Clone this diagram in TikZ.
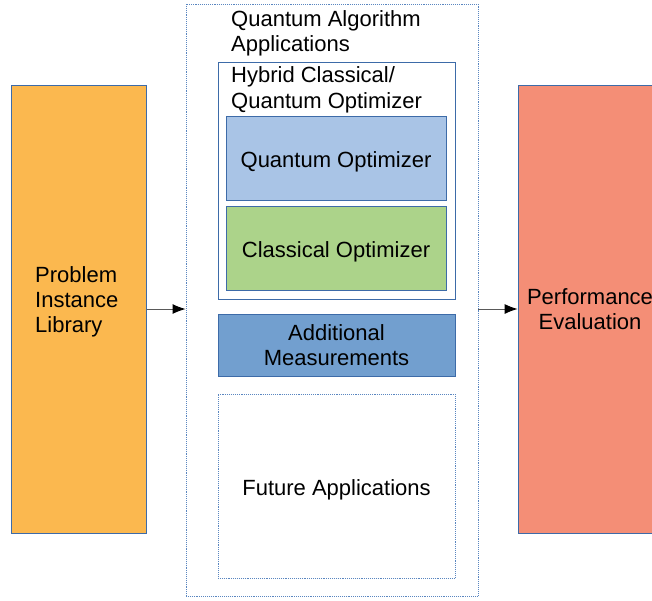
\documentclass[tikz,border=0pt]{standalone}
\usepackage{fontspec}
\setmainfont{Liberation Sans}
\usetikzlibrary{arrows.meta}
\usetikzlibrary{shapes}

\definecolor{libOrange}{HTML}{FBB84F}
\definecolor{quantBlue}{HTML}{A9C4E6}
\definecolor{classGreen}{HTML}{ACD38A}
\definecolor{measBlue}{HTML}{729FCF}
\definecolor{evalRed}{HTML}{F48E76}
\definecolor{edgeBlue}{HTML}{3D6BA8}
\definecolor{dotBlue}{HTML}{5A86C0}

\begin{document}
\begin{tikzpicture}[x = 1pt, y = -1pt, font = \fontsize{22}{25}\selectfont]
	\tikzstyle{BoxStyle} = [shape = rectangle, draw = edgeBlue, line width = 0.8pt, inner sep = 0pt, align = center]
	\tikzstyle{DottedStyle} = [shape = rectangle, draw = dotBlue, line width = 0.9pt, densely dotted, inner sep = 0pt, align = center]
	\tikzstyle{LineStyle} = [text height = 19pt, text depth = 1pt]
	\tikzstyle{TitleStyle} = [anchor = north west, inner sep = 0pt, align = left]
	\tikzstyle{ArrowStyle} = [draw = black!65, line width = 0.9pt, -{Latex[length = 13pt, width = 10pt, color = black]}]
	\useasboundingbox (0, 0) rectangle (652, 600);
	\node[BoxStyle, fill = libOrange, minimum width = 135pt, minimum height = 448pt] (library) at (79, 309) {};
	\node[anchor = west, inner sep = 0pt, align = left] (libraryText) at (35, 302) {Problem\\Instance\\Library};
	\node[DottedStyle, minimum width = 292pt, minimum height = 592pt] (apps) at (332, 300) {};
	\node[TitleStyle] (appsTitle) at (231, 10) {Quantum Algorithm\\Applications};
	\node[BoxStyle, fill = white, minimum width = 237pt, minimum height = 237pt] (hybrid) at (336.5, 180.5) {};
	\node[TitleStyle] (hybridTitle) at (231, 66) {Hybrid Classical/\\[1pt]Quantum Optimizer};
	\node[BoxStyle, LineStyle, fill = quantBlue, minimum width = 220pt, minimum height = 84pt] (quantum) at (336, 158) {Quantum Optimizer};
	\node[BoxStyle, LineStyle, fill = classGreen, minimum width = 220pt, minimum height = 84pt] (classical) at (336, 248) {Classical Optimizer};
	\node[BoxStyle, fill = measBlue, minimum width = 237pt, minimum height = 62pt] (measure) at (336.5, 345) {Additional\\Measurements};
	\node[DottedStyle, LineStyle, minimum width = 237pt, minimum height = 184pt] (future) at (336.5, 486) {Future Applications};
	\node[BoxStyle, fill = evalRed, minimum width = 144pt, minimum height = 448pt] (evaluation) at (590, 309) {Performance\\Evaluation};
	\draw[ArrowStyle] (library.east) -- (library.east -| apps.west);
	\draw[ArrowStyle] (evaluation.west -| apps.east) -- (evaluation.west);
\end{tikzpicture}
\end{document}
